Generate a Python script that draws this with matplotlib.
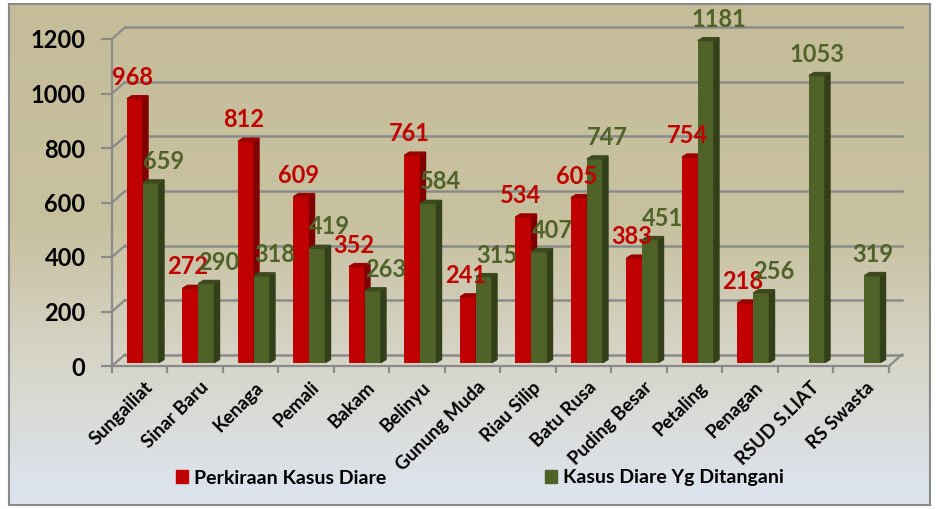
import numpy as np
import matplotlib
matplotlib.use("Agg")
import matplotlib.pyplot as plt
from matplotlib.patches import Polygon, Patch
from matplotlib.colors import LinearSegmentedColormap

plt.rcParams['font.family'] = ['Lato', 'DejaVu Sans']
plt.rcParams['font.weight'] = 'bold'

# data
kategori = ['Sungailiat', 'Sinar Baru', 'Kenaga', 'Pemali', 'Bakam', 'Belinyu',
            'Gunung Muda', 'Riau Silip', 'Batu Rusa', 'Puding Besar', 'Petaling',
            'Penagan', 'RSUD S.LIAT', 'RS Swasta']
perkiraan = [968, 272, 812, 609, 352, 761, 241, 534, 605, 383, 754, 218, None, None]
ditangani = [659, 290, 318, 419, 263, 584, 315, 407, 747, 451, 1181, 256, 1053, 319]
seri = ['Perkiraan Kasus Diare', 'Kasus Diare Yg Ditangani']
yticks = [0, 200, 400, 600, 800, 1000, 1200]

# colours
red, red_side, red_top = '#C00000', '#7E0000', '#9A0000'
green, green_side, green_top = '#4F6228', '#323F18', '#3C4A1E'
gray = '#8A8A8A'

W, H = 937, 509
fig = plt.figure(figsize=(W / 100, H / 100), dpi=100)
fig.patch.set_facecolor('white')

# gradient background with border
bg = fig.add_axes([9 / W, 4 / H, 921 / W, 501 / H])
cmap = LinearSegmentedColormap.from_list('bg', [
    (0.0, '#C5BD99'), (0.45, '#C8C1A0'), (0.7, '#D5D4C6'), (1.0, '#DEE5F0')])
bg.imshow(np.linspace(0, 1, 256).reshape(-1, 1), cmap=cmap, aspect='auto',
          extent=[0, 1, 0, 1], origin='upper')
bg.set_xticks([])
bg.set_yticks([])
for s in bg.spines.values():
    s.set_color(gray)
    s.set_linewidth(1.5)
bg.set_zorder(-5)

# main axes
x0, x1 = 112, 889
y0, y1 = 366, 39
ax = fig.add_axes([x0 / W, 1 - y0 / H, (x1 - x0) / W, (y0 - y1) / H])
ax.set_facecolor('none')
ax.set_xlim(-0.5, len(kategori) - 0.5)
ax.set_ylim(0, 1200)

px_x = (len(kategori)) / (x1 - x0)
px_y = 1200 / (y0 - y1)

for s in ['top', 'right']:
    ax.spines[s].set_visible(False)
for s in ['left', 'bottom']:
    ax.spines[s].set_color(gray)
    ax.spines[s].set_linewidth(1.6)

ax.set_yticks(yticks)
ax.tick_params(axis='y', length=8, width=1.6, color=gray, labelsize=17, pad=11)
for lab in ax.get_yticklabels():
    lab.set_fontweight('bold')
ax.set_xticks(np.arange(-0.5, len(kategori), 1.0))
ax.set_xticklabels([])
ax.tick_params(axis='x', length=5, width=1.6, color=gray)

# back wall gridlines and depth lines
ddx = 13 * px_x
ddy = 11.5 * px_y
for v in yticks:
    ax.plot([-0.5 + ddx, len(kategori) - 0.5 + ddx], [v + ddy, v + ddy],
            color=gray, lw=1.8, clip_on=False, zorder=1)
    ax.plot([-0.5, -0.5 + ddx], [v, v + ddy], color=gray, lw=1.6,
            clip_on=False, zorder=1)
ax.plot([len(kategori) - 0.5, len(kategori) - 0.5 + ddx], [0, ddy],
        color=gray, lw=1.6, clip_on=False, zorder=1)

# 3d bars
bw = 16 * px_x
sdx = 5 * px_x
sdy = 3 * px_y
base = 3.5 * px_y


def bar3d(xl, v, front, side, top):
    ax.bar(xl, v, width=bw, bottom=base, align='edge', color=front,
           zorder=3, clip_on=False)
    xr = xl + bw
    t = base + v
    ax.add_patch(Polygon([(xr, base), (xr + sdx, base + sdy), (xr + sdx, t + sdy), (xr, t)],
                         closed=True, color=side, zorder=3, clip_on=False))
    ax.add_patch(Polygon([(xl, t), (xl + sdx, t + sdy), (xr + sdx, t + sdy), (xr, t)],
                         closed=True, color=top, zorder=3, clip_on=False))


lab_kw = dict(textcoords='offset points', ha='center', va='baseline',
              fontsize=17, fontweight='bold', zorder=10, annotation_clip=False)
for i in range(len(kategori)):
    r = perkiraan[i]
    g = ditangani[i]
    xl_r = i - 12.75 * px_x
    xl_g = i + 3.25 * px_x
    if r is not None:
        bar3d(xl_r, r, red, red_side, red_top)
    bar3d(xl_g, g, green, green_side, green_top)
    if r is not None:
        ax.annotate(str(r), (xl_r + bw / 2, base + r), xytext=(-2, 10), color=red, **lab_kw)
    gdx = 9 if r is not None else 0
    ax.annotate(str(g), (xl_g + bw / 2, base + g), xytext=(gdx, 10), color=green, **lab_kw)

# category labels
for i, name in enumerate(kategori):
    ax.annotate(name, (i, 0), xytext=(3, -9), textcoords='offset points',
                rotation=45, rotation_mode='anchor', ha='right', va='top',
                fontsize=13.5, fontweight='bold', annotation_clip=False)

# legend
handles = [Patch(color=red), Patch(color=green)]
fig.legend(handles, seri, loc='center', bbox_to_anchor=(480 / W, 1 - 478 / H),
           ncol=2, frameon=False, prop={'size': 14, 'weight': 'bold'},
           handlelength=0.62, handleheight=0.62, handletextpad=0.3,
           columnspacing=8.2)

fig.savefig('out.png', dpi=100)
